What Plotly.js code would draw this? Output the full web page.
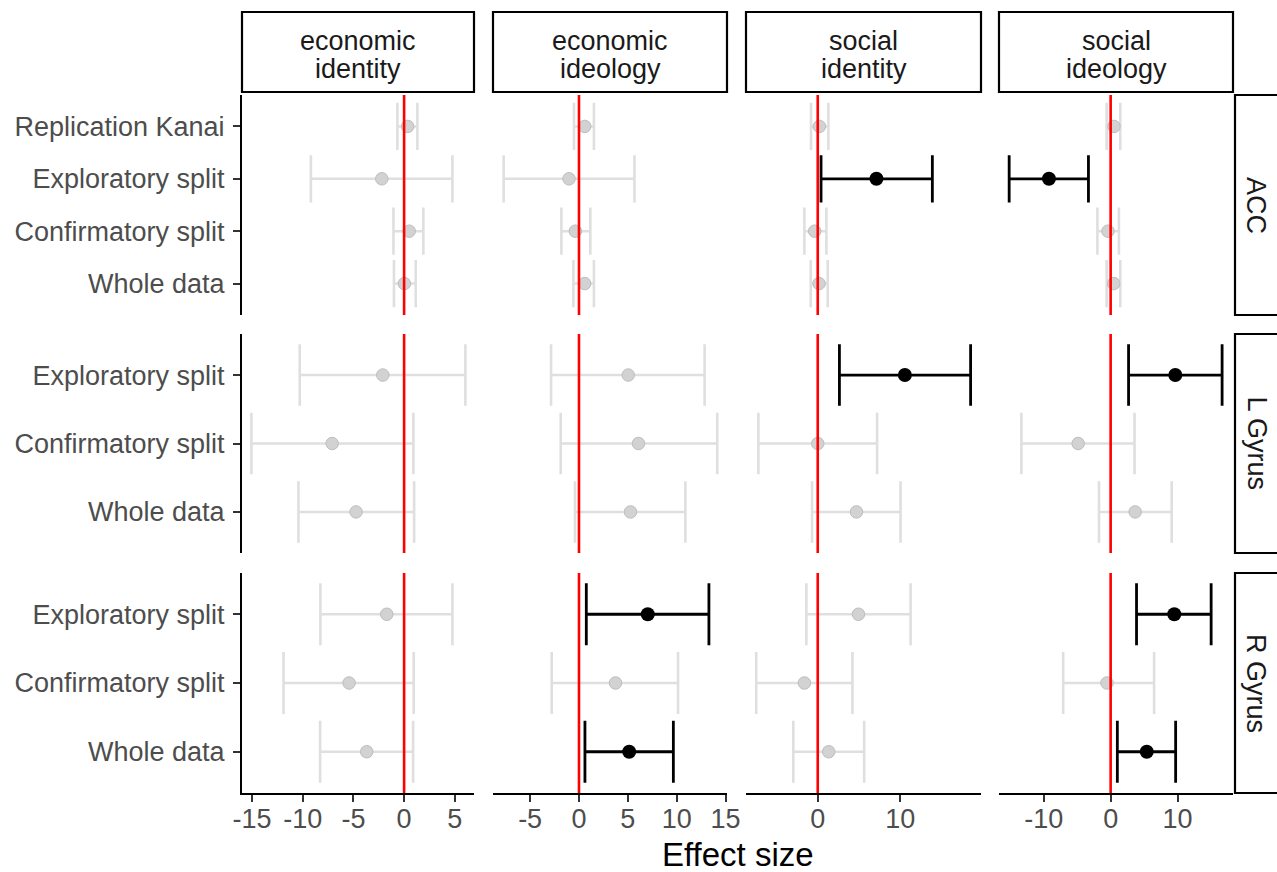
<!DOCTYPE html>
<html>
<head>
<meta charset="utf-8">
<script src="https://cdn.plot.ly/plotly-3.0.1.min.js"></script>
<style>html,body{margin:0;padding:0;background:#fff;}#chart{width:1277px;height:872px;}</style>
</head>
<body>
<div id="chart"></div>
<script>
// ---------------- data ----------------
const outcomes = ["economic identity", "economic ideology", "social identity", "social ideology"];
const regions = ["ACC", "L Gyrus", "R Gyrus"];
const analysesACC = ["Replication Kanai", "Exploratory split", "Confirmatory split", "Whole data"];
const analysesGyrus = ["Exploratory split", "Confirmatory split", "Whole data"];

// [outcome][analysis]
const accEst = [[0.35, -2.2, 0.5, 0.03], [0.58, -1.02, -0.37, 0.58], [0.2, 7.12, -0.37, 0.16], [0.5, -9.23, -0.4, 0.45]];
const accLo  = [[-0.66, -9.2, -1.05, -1.0], [-0.51, -7.71, -1.8, -0.57], [-0.81, 0.4, -1.62, -0.85], [-0.6, -15.18, -1.98, -0.6]];
const accHi  = [[1.31, 4.77, 1.9, 1.15], [1.53, 5.68, 1.16, 1.53], [1.29, 13.9, 1.05, 1.21], [1.44, -3.32, 1.24, 1.44]];

const lgEst = [[-2.1, -7.1, -4.74], [5.04, 6.09, 5.27], [10.57, 0.0, 4.7], [9.67, -4.86, 3.67]];
const lgLo  = [[-10.3, -15.07, -10.43], [-2.86, -1.87, -0.41], [2.63, -7.2, -0.69], [2.68, -13.35, -1.74]];
const lgHi  = [[6.05, 0.92, 0.99], [12.86, 14.15, 10.89], [18.54, 7.2, 10.04], [16.67, 3.57, 9.13]];

const rgEst = [[-1.71, -5.43, -3.69], [7.04, 3.74, 5.14], [4.94, -1.62, 1.33], [9.52, -0.55, 5.4]];
const rgLo  = [[-8.26, -11.9, -8.29], [0.75, -2.79, 0.61], [-1.38, -7.46, -2.96], [3.87, -7.1, 1.0]];
const rgHi  = [[4.77, 0.95, 0.89], [13.3, 10.14, 9.66], [11.26, 4.21, 5.63], [15.03, 6.5, 9.72]];

const xTickVals = [[-15, -10, -5, 0, 5], [-5, 0, 5, 10, 15], [0, 10], [-10, 0, 10]];
const xTickText = [["-15", "-10", "-5", "0", "5"], ["-5", "0", "5", "10", "15"], ["0", "10"], ["-10", "0", "10"]];
const xTitle = "Effect size";

// ---------------- layout geometry ----------------
const W = 1277, H = 872;
const colX = [[242, 474], [493, 727], [746, 981], [999, 1233]];
const rowY = [[95, 315], [334, 553], [573, 793]];
const xRanges = [[-16.0, 6.9], [-8.8, 15.15], [-8.7, 19.8], [-16.7, 18.3]];
const stripTop = [12, 92];
const stripLineY = [41, 69];
const stripRight = [1235, 1290];
const FONT = "Liberation Sans, Arial, Helvetica, sans-serif";
const FS = 27;

const rowData = [
  {an: analysesACC, est: accEst, lo: accLo, hi: accHi},
  {an: analysesGyrus, est: lgEst, lo: lgLo, hi: lgHi},
  {an: analysesGyrus, est: rgEst, lo: rgLo, hi: rgHi}
];

const px = p => p / W;
const py = p => 1 - p / H;

const traces = [];
const layout = {
  width: W, height: H, autosize: false,
  margin: {l: 0, r: 0, t: 0, b: 0, pad: 0},
  paper_bgcolor: "#fff", plot_bgcolor: "#fff",
  showlegend: false,
  font: {family: FONT, color: "#000"},
  shapes: [], annotations: []
};

for (let r = 0; r < 3; r++) {
  const rd = rowData[r];
  const n = rd.an.length;
  const yRange = [0.4, n + 0.6];
  const panelH = rowY[r][1] - rowY[r][0];
  const capHalf = 0.45 * panelH / (yRange[1] - yRange[0]);
  const pos = rd.an.map((_, i) => n - i);
  for (let c = 0; c < 4; c++) {
    const k = r * 4 + c + 1;
    const xa = "x" + (k === 1 ? "" : k), ya = "y" + (k === 1 ? "" : k);
    const est = rd.est[c], lo = rd.lo[c], hi = rd.hi[c];
    const groups = {gray: {x: [], y: [], p: [], m: []}, black: {x: [], y: [], p: [], m: []}};
    est.forEach((e, i) => {
      const sig = lo[i] > 0 || hi[i] < 0;
      const g = sig ? groups.black : groups.gray;
      g.x.push(e); g.y.push(pos[i]); g.p.push(hi[i] - e); g.m.push(e - lo[i]);
    });
    traces.push({
      type: "scatter", mode: "markers", xaxis: xa, yaxis: ya, hoverinfo: "skip",
      x: groups.gray.x, y: groups.gray.y,
      error_x: {type: "data", symmetric: false, array: groups.gray.p, arrayminus: groups.gray.m,
                color: "#dfdfdf", thickness: 2.6, width: capHalf},
      marker: {size: 12.5, color: "#d2d2d2", line: {color: "#bdbdbd", width: 1}}
    });
    traces.push({
      type: "scatter", mode: "markers", xaxis: xa, yaxis: ya, hoverinfo: "skip",
      x: groups.black.x, y: groups.black.y,
      error_x: {type: "data", symmetric: false, array: groups.black.p, arrayminus: groups.black.m,
                color: "#000", thickness: 2.8, width: capHalf},
      marker: {size: 14, color: "#000"}
    });

    const isBottom = r === 2, isLeft = c === 0;
    layout["xaxis" + (k === 1 ? "" : k)] = {
      domain: [px(colX[c][0]), px(colX[c][1])], anchor: ya,
      range: xRanges[c], showgrid: false, zeroline: false, fixedrange: true,
      showline: isBottom, linecolor: "#000", linewidth: 2,
      ticks: isBottom ? "outside" : "", ticklen: 7, tickwidth: 2, tickcolor: "#333",
      tickmode: "array", tickvals: xTickVals[c], ticktext: xTickText[c],
      showticklabels: isBottom, tickfont: {size: FS, color: "#4d4d4d", family: FONT},
      ticklabelstandoff: -6
    };
    layout["yaxis" + (k === 1 ? "" : k)] = {
      domain: [py(rowY[r][1]), py(rowY[r][0])], anchor: xa,
      range: yRange, showgrid: false, zeroline: false, fixedrange: true,
      showline: isLeft, linecolor: "#000", linewidth: 2,
      ticks: isLeft ? "outside" : "", ticklen: 7, tickwidth: 2, tickcolor: "#333",
      tickmode: "array", tickvals: pos, ticktext: rd.an,
      showticklabels: isLeft, tickfont: {size: FS, color: "#4d4d4d", family: FONT},
      ticklabelstandoff: 3
    };
    // reference line at 0
    layout.shapes.push({type: "line", xref: xa, yref: ya + " domain", x0: 0, x1: 0, y0: 0, y1: 1,
                        line: {color: "#ff0000", width: 2.6}, layer: "above"});
  }
  // right strip
  layout.shapes.push({type: "rect", xref: "paper", yref: "paper",
    x0: px(stripRight[0]), x1: px(stripRight[1]), y0: py(rowY[r][1]), y1: py(rowY[r][0]),
    fillcolor: "#fff", line: {color: "#000", width: 2.2}, layer: "below"});
  layout.annotations.push({xref: "paper", yref: "paper", x: px(1256), y: py((rowY[r][0] + rowY[r][1]) / 2),
    text: regions[r], showarrow: false, textangle: 90, font: {size: FS, color: "#1a1a1a", family: FONT},
    xanchor: "center", yanchor: "middle"});
}
// top strips
for (let c = 0; c < 4; c++) {
  layout.shapes.push({type: "rect", xref: "paper", yref: "paper",
    x0: px(colX[c][0]), x1: px(colX[c][1]), y0: py(stripTop[1]), y1: py(stripTop[0]),
    fillcolor: "#fff", line: {color: "#000", width: 2.2}, layer: "below"});
  outcomes[c].split(" ").forEach((word, j) => {
    layout.annotations.push({xref: "paper", yref: "paper",
      x: px((colX[c][0] + colX[c][1]) / 2), y: py(stripLineY[j]),
      text: word, showarrow: false,
      font: {size: FS, color: "#1a1a1a", family: FONT}, xanchor: "center", yanchor: "middle"});
  });
}
// x axis title
layout.annotations.push({xref: "paper", yref: "paper", x: px((colX[0][0] + colX[3][1]) / 2), y: py(854),
  text: xTitle, showarrow: false, font: {size: 33, color: "#000", family: FONT},
  xanchor: "center", yanchor: "middle"});

Plotly.newPlot("chart", traces, layout, {staticPlot: true, displayModeBar: false});
</script>
</body>
</html>
